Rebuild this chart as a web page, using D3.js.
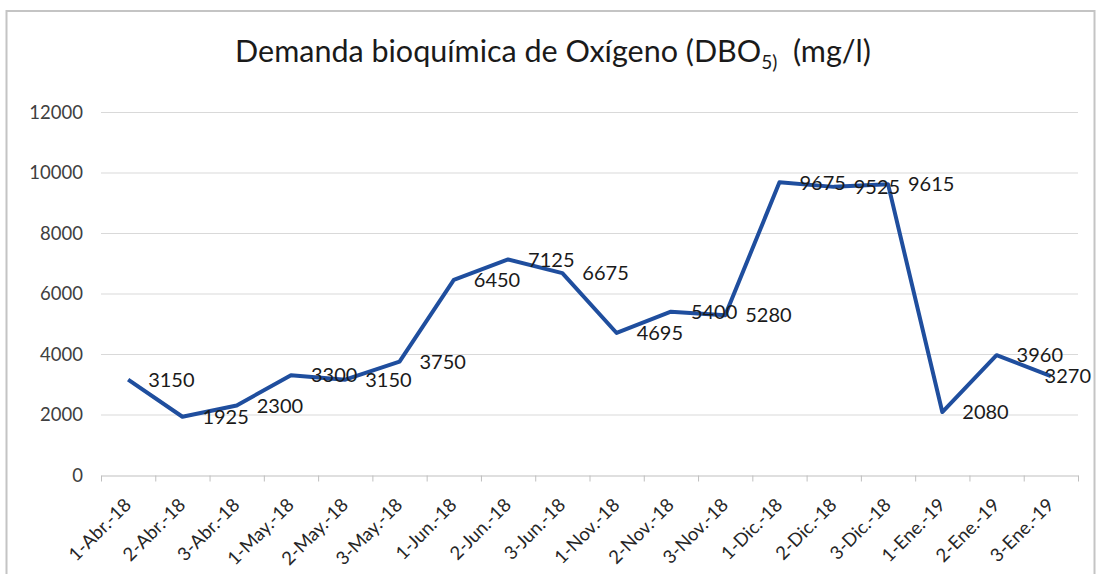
<!DOCTYPE html>
<html>
<head>
<meta charset="utf-8">
<script src="https://cdn.jsdelivr.net/npm/d3@7"></script>
<style>
  body { margin: 0; background: #fff; }
  svg { display: block; font-family: Lato, "Open Sans", sans-serif; }
</style>
</head>
<body>
<div id="main"></div>
<script>
const WIDTH = 1099, HEIGHT = 574;

// data
const categories = ["1-Abr.-18", "2-Abr.-18", "3-Abr.-18", "1-May.-18", "2-May.-18", "3-May.-18",
    "1-Jun.-18", "2-Jun.-18", "3-Jun.-18", "1-Nov.-18", "2-Nov.-18", "3-Nov.-18",
    "1-Dic.-18", "2-Dic.-18", "3-Dic.-18", "1-Ene.-19", "2-Ene.-19", "3-Ene.-19"];
const dboValues = [3150, 1925, 2300, 3300, 3150, 3750, 6450, 7125, 6675, 4695, 5400, 5280,
    9675, 9525, 9615, 2080, 3960, 3270];
const yTicks = [0, 2000, 4000, 6000, 8000, 10000, 12000];

const margin = { left: 101, right: 1078, top: 112, bottom: 475 };

const svg = d3.select("#main").append("svg")
    .attr("width", WIDTH)
    .attr("height", HEIGHT);

// outer chart frame
svg.append("rect")
    .attr("x", 6.5).attr("y", 11)
    .attr("width", 1088).attr("height", 600)
    .attr("fill", "none")
    .attr("stroke", "#c4c4c4")
    .attr("stroke-width", 2);

const x = d3.scaleBand()
    .domain(categories)
    .range([margin.left, margin.right]);

const y = d3.scaleLinear()
    .domain([0, 12000])
    .range([margin.bottom, margin.top]);

// gridlines
svg.append("g")
    .selectAll("line")
    .data(yTicks.filter(d => d > 0))
    .enter()
    .append("line")
    .attr("x1", margin.left).attr("x2", margin.right)
    .attr("y1", d => y(d) + 0.5).attr("y2", d => y(d) + 0.5)
    .attr("stroke", "#d9d9d9")
    .attr("stroke-width", 1);

// y axis labels
svg.append("g")
    .selectAll("text")
    .data(yTicks)
    .enter()
    .append("text")
    .attr("x", 83)
    .attr("y", d => y(d))
    .attr("dy", "0.36em")
    .attr("text-anchor", "end")
    .attr("font-size", 18.5)
    .attr("fill", "#404040")
    .text(d => d);

// x axis
const xAxis = svg.append("g")
    .attr("transform", `translate(0,${margin.bottom + 0.5})`)
    .call(d3.axisBottom(x).tickSize(0).tickFormat(""));
xAxis.select(".domain").attr("stroke", "#bfbfbf");
const tickPos = categories.map(c => x(c)).concat([margin.right]);
xAxis.selectAll(".xt")
    .data(tickPos)
    .enter()
    .append("line")
    .attr("class", "xt")
    .attr("x1", d => d + 0.5).attr("x2", d => d + 0.5)
    .attr("y1", 0).attr("y2", 6)
    .attr("stroke", "#bfbfbf");

svg.append("g")
    .selectAll("text")
    .data(categories)
    .enter()
    .append("text")
    .attr("text-anchor", "end")
    .attr("font-size", 18.5)
    .attr("fill", "#262626")
    .attr("transform", d => `translate(${x(d) + x.bandwidth() / 2 - 5},${margin.bottom + 22}) rotate(-45)`)
    .attr("dy", "0.7em")
    .text(d => d);

// line
const line = d3.line()
    .x((d, i) => x(categories[i]) + x.bandwidth() / 2)
    .y(d => y(d));

svg.append("path")
    .datum(dboValues)
    .attr("d", line)
    .attr("fill", "none")
    .attr("stroke", "#1f4e9e")
    .attr("stroke-width", 4)
    .attr("stroke-linejoin", "round");

// data labels (placed right of the point, kept inside the frame)
svg.append("g")
    .selectAll("text")
    .data(dboValues)
    .enter()
    .append("text")
    .attr("y", d => y(d))
    .attr("dy", "0.36em")
    .attr("font-size", 20)
    .attr("fill", "#1a1a1a")
    .text(d => d)
    .attr("x", function (d, i) {
        const px = x(categories[i]) + x.bandwidth() / 2 + 20;
        const w = this.getComputedTextLength();
        return Math.min(px, 1091 - w);
    });

// title
const title = svg.append("text")
    .attr("x", 553)
    .attr("y", 62)
    .attr("text-anchor", "middle")
    .attr("font-size", 30.5)
    .attr("fill", "#1a1a1a");
title.append("tspan").text("Demanda bioquímica de Oxígeno (DBO");
title.append("tspan").attr("font-size", 19).attr("dy", 7).text("5)");
title.append("tspan").attr("dy", -7).text("\u00a0\u00a0(mg/l)");
</script>
</body>
</html>
